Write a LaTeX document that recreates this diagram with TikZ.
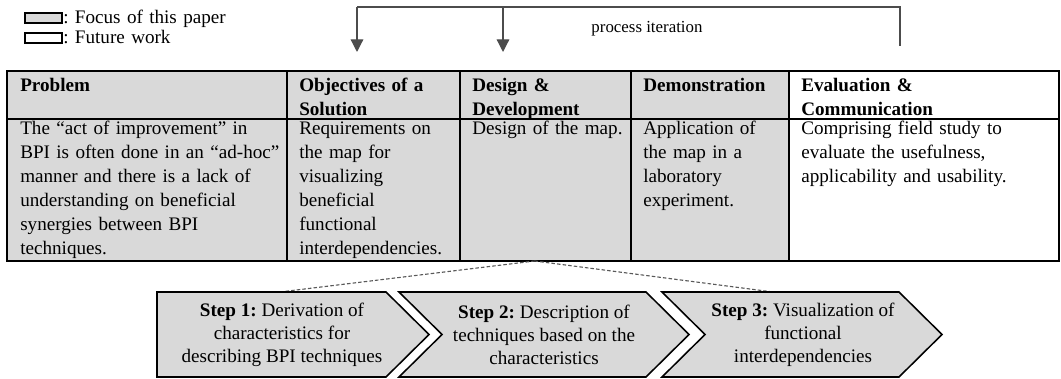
\documentclass[tikz,border=0pt]{standalone}
\usepackage{fontspec}
\setmainfont{Liberation Serif}
\usepackage{tikz}
\usetikzlibrary{arrows.meta,positioning}

\definecolor{focusgray}{RGB}{217,217,217}
\frenchspacing

\begin{document}
\begin{tikzpicture}[
    cell/.style={rectangle,draw,line width=1.3pt,anchor=north west,inner sep=0pt,outer sep=0pt},
    focus/.style={cell,fill=focusgray},
    future/.style={cell,fill=white},
    txt/.style={anchor=base west,align=left,inner sep=0pt,text width=6.6cm,font=\fontsize{13.6}{17}\selectfont},
    head/.style={txt,font=\fontsize{13.6}{16.8}\selectfont\bfseries},
    keybox/.style={rectangle,draw,line width=1.3pt,minimum width=0.925cm,minimum height=0.25cm,inner sep=0pt},
    iter/.style={draw=black!70,line width=0.9pt},
    arrow/.style={iter,-{Triangle[width=9pt,length=9pt]}},
    stepbox/.style={draw,line width=1.1pt,fill=focusgray},
    steptext/.style={align=center,inner sep=0pt,font=\fontsize{13.6}{16.4}\selectfont},
    zoomline/.style={draw=black!65,line width=0.8pt,dash pattern=on 2.5pt off 1.5pt}
]
    \useasboundingbox (0,0) rectangle (26.525,9.475);

    % legend
    \node[keybox,fill=focusgray] (focuskey) at (1.0875,9.025) {};
    \node[keybox,fill=white] (futurekey) at (1.0875,8.525) {};
    \node[txt] (focuslabel) at (1.575,8.875) {: Focus of this paper};
    \node[txt] (futurelabel) at (1.575,8.375) {: Future work};

    % process iteration
    \coordinate (iterL) at (8.925,9.3);
    \coordinate (iterM) at (12.575,9.3);
    \coordinate (iterR) at (22.5,9.3);
    \coordinate (iterEnd) at (22.5,8.325);
    \coordinate (objIn) at (8.925,8.175);
    \coordinate (desIn) at (12.575,8.175);
    \draw[iter] (iterEnd) -- (iterR) -- (iterL);
    \draw[arrow] (iterL) -- (objIn);
    \draw[arrow] (iterM) -- (desIn);
    \node[anchor=base,font=\fontsize{12}{14}\selectfont] (iterlabel) at (16.175,8.65) {process iteration};

    % table, header row
    \node[focus,minimum width=7cm,minimum height=1.2cm] (problemH) at (0.175,7.7) {};
    \node[focus,minimum width=4.325cm,minimum height=1.2cm] (objH) at (7.175,7.7) {};
    \node[focus,minimum width=4.275cm,minimum height=1.2cm] (designH) at (11.5,7.7) {};
    \node[focus,minimum width=3.95cm,minimum height=1.2cm] (demoH) at (15.775,7.7) {};
    \node[future,minimum width=6.75cm,minimum height=1.2cm] (evalH) at (19.725,7.7) {};
    % table, body row
    \node[focus,minimum width=7cm,minimum height=3.55cm] (problemB) at (problemH.south west) {};
    \node[focus,minimum width=4.325cm,minimum height=3.55cm] (objB) at (objH.south west) {};
    \node[focus,minimum width=4.275cm,minimum height=3.55cm] (designB) at (designH.south west) {};
    \node[focus,minimum width=3.95cm,minimum height=3.55cm] (demoB) at (demoH.south west) {};
    \node[future,minimum width=6.75cm,minimum height=3.55cm] (evalB) at (evalH.south west) {};

    \node[head] (problemT) at (0.5,7.19) {Problem};
    \node[head] (objT) at (7.475,7.19) {Objectives of a\\Solution};
    \node[head] (designT) at (11.8,7.19) {Design \&\\Development};
    \node[head] (demoT) at (16.075,7.19) {Demonstration};
    \node[head] (evalT) at (20.025,7.19) {Evaluation \&\\Communication};

    \node[txt] (problemC) at (0.5,6.1) {The “act of improvement” in\\BPI is often done in an “ad-hoc”\\manner and there is a lack of\\understanding on beneficial\\synergies between BPI\\techniques.};
    \node[txt] (objC) at (7.475,6.1) {Requirements on\\the map for\\visualizing\\beneficial\\functional\\interdependencies.};
    \node[txt] (designC) at (11.8,6.1) {Design of the map.};
    \node[txt] (demoC) at (16.075,6.1) {Application of\\the map in a\\laboratory\\experiment.};
    \node[txt] (evalC) at (20.025,6.1) {Comprising field study to\\evaluate the usefulness,\\applicability and usability.};

    % zoom into design
    \coordinate (zoomtop) at ([xshift=-0.27cm]designB.south);
    \coordinate (step1top) at (7.0,2.175);
    \coordinate (step3top) at (19.325,2.175);
    \draw[zoomline] (zoomtop) -- (step1top);
    \draw[zoomline] (zoomtop) -- (step3top);

    % steps
    \draw[stepbox] (3.925,2.175) -- (9.65,2.175) -- (10.725,1.1125) -- (9.65,0.05) -- (3.925,0.05) -- cycle;
    \draw[stepbox] (9.975,2.175) -- (16.15,2.175) -- (17.225,1.1125) -- (16.15,0.05) -- (9.975,0.05) -- (11.05,1.1125) -- cycle;
    \draw[stepbox] (16.55,2.175) -- (22.475,2.175) -- (23.55,1.1125) -- (22.475,0.05) -- (16.55,0.05) -- (17.625,1.1125) -- cycle;

    \node[steptext] (step1) at (7.05,1.1125) {\textbf{Step 1:} Derivation of\\characteristics for\\describing BPI techniques};
    \node[steptext] (step2) at (13.6,1.1125) {\textbf{Step 2:} Description of\\techniques based on the\\characteristics};
    \node[steptext] (step3) at (20.075,1.1125) {\textbf{Step 3:} Visualization of\\functional\\interdependencies};
\end{tikzpicture}
\end{document}
